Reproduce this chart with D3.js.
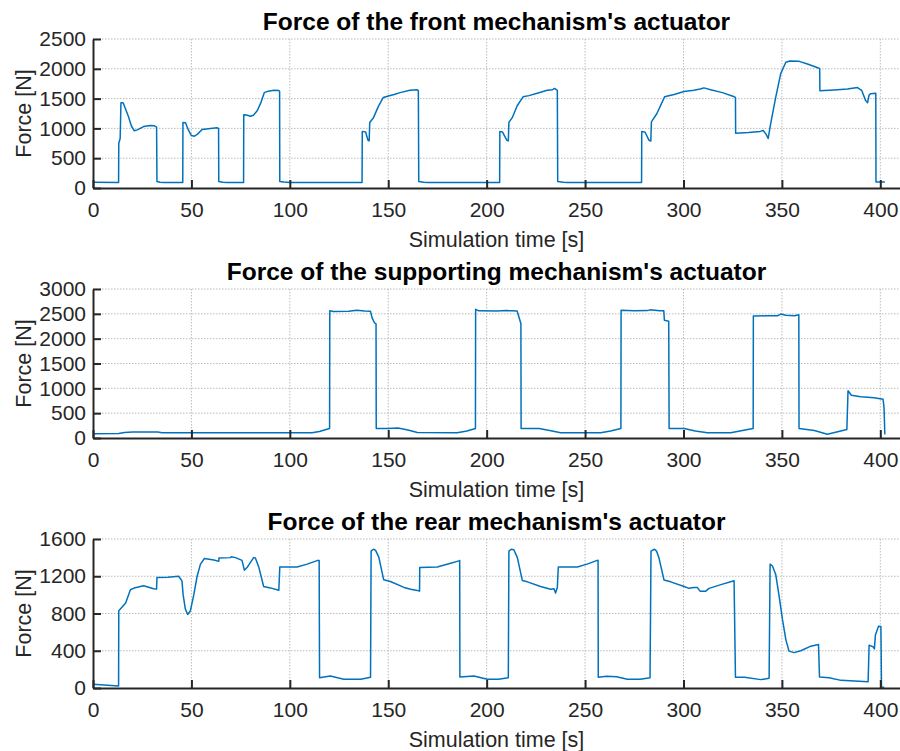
<!DOCTYPE html>
<html>
<head>
<meta charset="utf-8">
<script src="https://cdn.jsdelivr.net/npm/d3@7"></script>
<style>
  body { margin: 0; background: #fff; }
  svg { display: block; font-family: "Liberation Sans", Arial, Helvetica, sans-serif; }
</style>
</head>
<body>
<svg id="chart"></svg>
<script>
// values (time in s, force in N)
let frontTime = [0, 13, 13.1, 13.8, 14.2, 15.3, 16.5, 18, 19.5, 21, 22.5, 25.7, 29, 31, 32.3, 32.5, 34, 36,
  45.6, 45.7, 47, 48.5, 50, 51.5, 53, 55.4, 59.7, 63, 63.8, 63.9, 66, 68,
  76.5, 76.6, 78, 80, 81.5, 83.5, 85.5, 87, 89, 92, 94.5, 94.8, 94.9, 97, 100,
  136.7, 136.8, 138.5, 139.7, 140.3, 140.6, 142.5, 145, 147.5, 150, 153, 156, 161, 164.7, 165.3, 165.5, 168, 170,
  206.6, 206.7, 208, 210.3, 211, 211.3, 213, 215.5, 218.5, 221.5, 225.7, 230.8, 233.5, 234.5, 235.9, 236.1, 239, 241,
  278.7, 278.8, 280.5, 282.5, 283.4, 283.7, 286.5, 290.4, 295.2, 300.3, 305.3, 308.5, 310.4, 313.8, 319.8, 325.8, 326.4,
  326.5, 333, 339, 340.5, 342, 343, 344.3, 346.9, 349.4, 352, 354, 358.8, 363, 368.9, 369.2,
  369.3, 376.5, 383.3, 388.4, 390.5, 392.5, 393.5, 394.3, 395, 397.7, 397.8, 402.3];
let frontForce = [95, 92, 750, 830, 1430, 1430, 1330, 1200, 1040, 960, 975, 1030, 1050, 1045, 1020, 110, 95, 92,
  92, 1100, 1095, 970, 880, 870, 900, 980, 1000, 1010, 1000, 110, 95, 92,
  92, 1230, 1225, 1205, 1220, 1300, 1450, 1600, 1625, 1640, 1635, 1620, 110, 100, 92,
  92, 950, 940, 800, 790, 1100, 1180, 1370, 1520, 1545, 1570, 1600, 1640, 1650, 1630, 110, 95, 92,
  92, 950, 940, 800, 790, 1100, 1180, 1380, 1530, 1550, 1590, 1640, 1650, 1670, 1640, 110, 95, 92,
  92, 950, 935, 800, 790, 1110, 1250, 1530, 1570, 1620, 1640, 1660, 1680, 1650, 1600, 1530, 1520,
  920, 930, 950, 965, 900, 830, 1080, 1530, 1920, 2110, 2130, 2125, 2080, 2010, 2000,
  1630, 1645, 1660, 1685, 1640, 1470, 1430, 1560, 1580, 1590, 100, 100];

let supportTime = [0, 13, 16, 20, 33, 35, 111.3, 115, 118, 120.2, 120.3, 122, 130, 134, 138, 141, 141.8, 143, 143.8, 143.9,
  149.5, 155, 160, 164.8, 185, 190, 194.3, 194.4, 196, 205, 210, 213, 215.5, 216.5, 217.4, 217.5,
  226.7, 232, 237.6, 257.9, 263, 268.2, 268.3, 275, 281.6, 283, 288, 290, 290.3, 292.5, 292.7,
  300.3, 306, 312.2, 324, 330, 335.4, 335.5, 342, 347.7, 349.4, 352, 356.5, 358.6, 358.7,
  366.5, 373.1, 379.9, 383, 383.6, 385.3, 390, 396.9, 401.4, 401.9, 402.3];
let supportForce = [85, 90, 110, 120, 120, 105, 105, 130, 165, 190, 2560, 2545, 2550, 2570, 2555, 2550, 2420, 2320, 2300, 190,
  190, 200, 160, 110, 105, 140, 190, 2590, 2560, 2555, 2565, 2560, 2555, 2420, 2300, 190,
  190, 150, 105, 105, 140, 190, 2570, 2560, 2565, 2580, 2560, 2560, 2370, 2350, 190,
  190, 140, 105, 105, 150, 190, 2455, 2460, 2460, 2495, 2470, 2460, 2480, 190,
  150, 75, 140, 170, 950, 860, 830, 810, 780, 600, 70];

let rearTime = [0, 13, 13.1, 16.6, 19, 20.9, 25.7, 30.8, 32.3, 32.5, 38, 43.5, 45.2, 45.8, 46.9, 48.1, 49.5, 51.2, 52.9, 54.6,
  56.6, 61.4, 63.9, 64, 69.8, 70.3, 72.4, 75.7, 76.9, 78.5, 81.6, 82.5, 84.2, 86.7, 90.1, 94.4, 94.9,
  103.7, 108.8, 113.9, 114.9, 115.1, 120.6, 127.4, 136, 141, 141.3, 142.5, 143.5, 145.2, 147.7, 151.1,
  158, 161.4, 164.8, 165.9, 166, 174.9, 181.7, 185.9, 186.3, 186.4, 193.5, 200.3, 206, 211, 211.3,
  212.5, 213.8, 215.6, 218.1, 220.7, 227.4, 232.5, 234.2, 235, 235.9, 236.4, 246.1, 251, 256.2, 256.6, 256.7,
  261, 266, 271.5, 278, 283, 283.5, 285.3, 286.3, 287.5, 290.1, 293.5, 300.3, 302.8, 305.3, 307, 308.4,
  311.3, 313, 319, 325.7, 326.4, 331, 339.3, 343.5, 344, 345.2, 346.9, 348.6, 350.3, 352, 353.6, 356.2,
  359.6, 364.7, 368.6, 369.1, 374, 380, 393.8, 394.3, 396.5, 397, 397.5, 399.1, 400.3, 400.6, 402];
let rearForce = [40, 22, 830, 913, 1055, 1073, 1098, 1065, 1062, 1187, 1190, 1200, 1150, 1000, 850, 790, 830, 1000, 1200, 1330,
  1390, 1375, 1360, 1395, 1400, 1410, 1400, 1370, 1265, 1300, 1400, 1395, 1300, 1090, 1075, 1050, 1298,
  1300, 1330, 1368, 1370, 111, 128, 93, 93, 116, 1470, 1490, 1480, 1405, 1162, 1144,
  1080, 1060, 1048, 1040, 1294, 1300, 1340, 1365, 1370, 118, 128, 93, 95, 110, 1470,
  1490, 1485, 1400, 1155, 1140, 1090, 1060, 1065, 1020, 1080, 1300, 1300, 1330, 1370, 1372, 115,
  125, 120, 93, 93, 110, 1470, 1490, 1470, 1400, 1160, 1140, 1090, 1070, 1080, 1080, 1040,
  1040, 1070, 1110, 1152, 115, 115, 90, 104, 1330, 1310, 1215, 984, 734, 520, 396, 380,
  400, 449, 467, 118, 110, 82, 68, 460, 440, 420, 570, 663, 660, 10, 5];

let titles = ["Force of the front mechanism's actuator",
  "Force of the supporting mechanism's actuator",
  "Force of the rear mechanism's actuator"];
let yMaxes = [2500, 3000, 1600];
let yTicks = [d3.range(0, 2501, 500), d3.range(0, 3001, 500), d3.range(0, 1601, 400)];
let xTicks = d3.range(0, 401, 50);

let w = 900, h = 751;
let svg = d3.select("#chart").attr("width", w).attr("height", h);

function createPanel(i, times, forces) {
  let top = 39 + 250 * i, bottom = 188 + 250 * i;
  let left = 93, right = 900;

  let x = d3.scaleLinear().domain([0, 410]).range([left, right]);
  let y = d3.scaleLinear().domain([0, yMaxes[i]]).range([bottom, top]);

  let g = svg.append("g");

  // dotted grid
  g.selectAll(".vgrid")
    .data(xTicks.filter(d => d > 0))
    .enter()
    .append("line")
    .attr("x1", d => x(d)).attr("x2", d => x(d))
    .attr("y1", top).attr("y2", bottom)
    .attr("stroke", "#b4b4b4")
    .attr("stroke-width", 0.9)
    .attr("stroke-dasharray", "1.5,1.5");
  g.selectAll(".hgrid")
    .data(yTicks[i].filter(d => d > 0))
    .enter()
    .append("line")
    .attr("x1", left).attr("x2", right)
    .attr("y1", d => y(d)).attr("y2", d => y(d))
    .attr("stroke", "#b4b4b4")
    .attr("stroke-width", 0.9)
    .attr("stroke-dasharray", "1.5,1.5");

  let points = times.map((t, k) => [t, forces[k]]);
  let line = d3.line().x(d => x(d[0])).y(d => y(d[1]));
  g.append("path")
    .datum(points)
    .attr("d", line)
    .attr("fill", "none")
    .attr("stroke", "#0072BD")
    .attr("stroke-width", 1.5)
    .attr("stroke-linejoin", "round");

  let xAxis = g.append("g")
    .attr("transform", `translate(0,${bottom})`)
    .call(d3.axisBottom(x).tickValues(xTicks).tickFormat(d3.format("d"))
      .tickSizeInner(-8).tickSizeOuter(0).tickPadding(14));
  let yAxis = g.append("g")
    .attr("transform", `translate(${left},0)`)
    .call(d3.axisLeft(y).tickValues(yTicks[i]).tickFormat(d3.format("d"))
      .tickSizeInner(-8).tickSizeOuter(0).tickPadding(7));

  [xAxis, yAxis].forEach(a => {
    a.select(".domain").attr("stroke", "#262626").attr("stroke-width", 2);
    a.selectAll(".tick line").attr("stroke", "#262626").attr("stroke-width", 2);
    a.selectAll(".tick text")
      .attr("fill", "#262626")
      .style("font-size", "21px")
      .style("font-family", "'Liberation Sans', Arial, sans-serif");
  });

  g.append("text")
    .attr("x", (left + right) / 2)
    .attr("y", 30 + 250 * i)
    .attr("text-anchor", "middle")
    .attr("font-weight", "bold")
    .attr("font-size", 24.5)
    .attr("fill", "#000")
    .text(titles[i]);

  g.append("text")
    .attr("x", (left + right) / 2)
    .attr("y", 247 + 250 * i)
    .attr("text-anchor", "middle")
    .attr("font-size", 21.5)
    .attr("fill", "#262626")
    .text("Simulation time [s]");

  g.append("text")
    .attr("transform", `translate(31,${(top + bottom) / 2}) rotate(-90)`)
    .attr("text-anchor", "middle")
    .attr("font-size", 21.5)
    .attr("fill", "#262626")
    .text("Force [N]");
}

createPanel(0, frontTime, frontForce);
createPanel(1, supportTime, supportForce);
createPanel(2, rearTime, rearForce);
</script>
</body>
</html>
